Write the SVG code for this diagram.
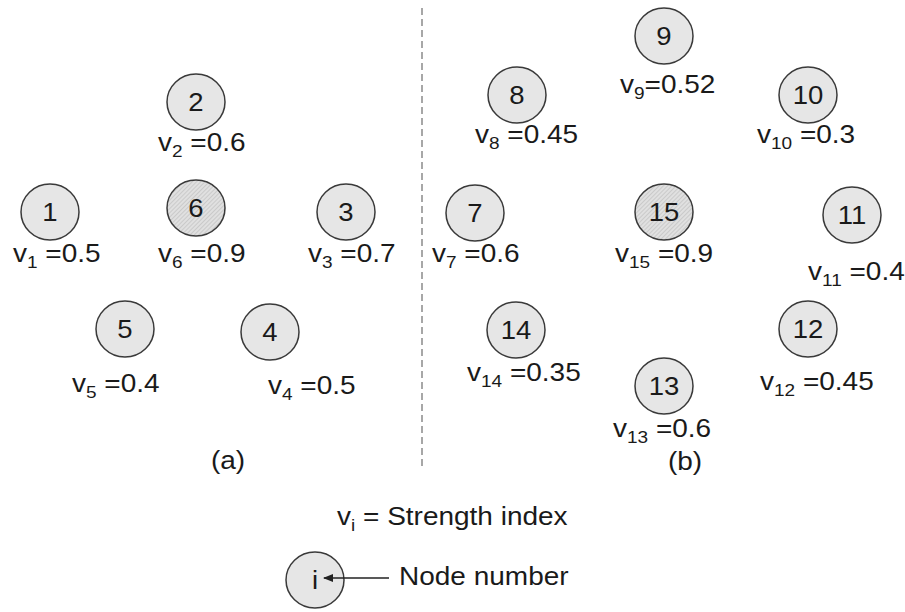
<svg xmlns="http://www.w3.org/2000/svg" width="905" height="612" viewBox="0 0 905 612">
<style>
.n{fill:#e6e6e6;stroke:#3a3a3a;stroke-width:1.5}
.h{fill:url(#hatch);stroke:#3a3a3a;stroke-width:1.5}
.t{font-family:"Liberation Sans",Arial,sans-serif;font-size:25px;fill:#1a1a1a}
.c{text-anchor:middle}
.s{font-size:17px}
.d{stroke:#8a8a8a;stroke-width:1.5;stroke-dasharray:7 4;fill:none}
.a{stroke:#222;stroke-width:1.5;fill:none}
</style>
<defs>
<pattern id="hatch" width="3" height="3" patternUnits="userSpaceOnUse" patternTransform="rotate(45)">
<rect width="3" height="3" fill="#e0e0e0"/>
<line x1="0" y1="0" x2="0" y2="3" stroke="#b4b4b4" stroke-width="1"/>
</pattern>
<marker id="arr" markerWidth="10" markerHeight="8" refX="9" refY="4" orient="auto" markerUnits="userSpaceOnUse">
<path d="M0,0 L10,4 L0,8 Z" fill="#222"/>
</marker>
</defs>
<rect width="905" height="612" fill="#fff"/>
<line class="d" x1="422" y1="8" x2="422" y2="466"/>

<g id="node1"><ellipse class="n" cx="50" cy="212" rx="29" ry="28"/>
<text class="t c" transform="translate(50,221) scale(1.1,1)">1</text>
<text class="t" transform="translate(13,262) scale(1.12,1)">v<tspan class="s" dy="6">1</tspan><tspan dy="-6"> =0.5</tspan></text></g>

<g id="node2"><ellipse class="n" cx="196" cy="102" rx="29" ry="28"/>
<text class="t c" transform="translate(196,111) scale(1.1,1)">2</text>
<text class="t" transform="translate(158,151) scale(1.12,1)">v<tspan class="s" dy="6">2</tspan><tspan dy="-6"> =0.6</tspan></text></g>

<g id="node6"><ellipse class="h" cx="196" cy="208" rx="29" ry="28"/>
<text class="t c" transform="translate(196,217) scale(1.1,1)">6</text>
<text class="t" transform="translate(158,262) scale(1.12,1)">v<tspan class="s" dy="6">6</tspan><tspan dy="-6"> =0.9</tspan></text></g>

<g id="node3"><ellipse class="n" cx="346" cy="212" rx="29" ry="28"/>
<text class="t c" transform="translate(346,221) scale(1.1,1)">3</text>
<text class="t" transform="translate(308,262) scale(1.12,1)">v<tspan class="s" dy="6">3</tspan><tspan dy="-6"> =0.7</tspan></text></g>

<g id="node5"><ellipse class="n" cx="125" cy="329" rx="29" ry="28"/>
<text class="t c" transform="translate(125,338) scale(1.1,1)">5</text>
<text class="t" transform="translate(72,392) scale(1.12,1)">v<tspan class="s" dy="6">5</tspan><tspan dy="-6"> =0.4</tspan></text></g>

<g id="node4"><ellipse class="n" cx="270" cy="332" rx="29" ry="28"/>
<text class="t c" transform="translate(270,341) scale(1.1,1)">4</text>
<text class="t" transform="translate(268,394) scale(1.12,1)">v<tspan class="s" dy="6">4</tspan><tspan dy="-6"> =0.5</tspan></text></g>

<text class="t c" transform="translate(228,469) scale(1.12,1)">(a)</text>

<g id="node8"><ellipse class="n" cx="517" cy="95" rx="29" ry="28"/>
<text class="t c" transform="translate(517,104) scale(1.1,1)">8</text>
<text class="t" transform="translate(475,143) scale(1.12,1)">v<tspan class="s" dy="6">8</tspan><tspan dy="-6"> =0.45</tspan></text></g>

<g id="node9"><ellipse class="n" cx="664" cy="36" rx="29" ry="28"/>
<text class="t c" transform="translate(664,45) scale(1.1,1)">9</text>
<text class="t" transform="translate(620,93) scale(1.12,1)">v<tspan class="s" dy="6">9</tspan><tspan dy="-6">=0.52</tspan></text></g>

<g id="node10"><ellipse class="n" cx="808" cy="95" rx="29" ry="28"/>
<text class="t c" transform="translate(808,104) scale(1.1,1)">10</text>
<text class="t" transform="translate(757,143) scale(1.12,1)">v<tspan class="s" dy="6">10</tspan><tspan dy="-6"> =0.3</tspan></text></g>

<g id="node7"><ellipse class="n" cx="475" cy="213" rx="29" ry="28"/>
<text class="t c" transform="translate(475,222) scale(1.1,1)">7</text>
<text class="t" transform="translate(432,262) scale(1.12,1)">v<tspan class="s" dy="6">7</tspan><tspan dy="-6"> =0.6</tspan></text></g>

<g id="node15"><ellipse class="h" cx="664" cy="212" rx="29" ry="28"/>
<text class="t c" transform="translate(664,221) scale(1.1,1)">15</text>
<text class="t" transform="translate(615,262) scale(1.12,1)">v<tspan class="s" dy="6">15</tspan><tspan dy="-6"> =0.9</tspan></text></g>

<g id="node11"><ellipse class="n" cx="852" cy="215" rx="29" ry="28"/>
<text class="t c" transform="translate(852,224) scale(1.1,1)">11</text>
<text class="t" transform="translate(808,280) scale(1.12,1)">v<tspan class="s" dy="6">11</tspan><tspan dy="-6"> =0.4</tspan></text></g>

<g id="node14"><ellipse class="n" cx="516" cy="330" rx="29" ry="28"/>
<text class="t c" transform="translate(516,339) scale(1.1,1)">14</text>
<text class="t" transform="translate(467,381) scale(1.12,1)">v<tspan class="s" dy="6">14</tspan><tspan dy="-6"> =0.35</tspan></text></g>

<g id="node12"><ellipse class="n" cx="808" cy="329" rx="29" ry="28"/>
<text class="t c" transform="translate(808,338) scale(1.1,1)">12</text>
<text class="t" transform="translate(760,390) scale(1.12,1)">v<tspan class="s" dy="6">12</tspan><tspan dy="-6"> =0.45</tspan></text></g>

<g id="node13"><ellipse class="n" cx="664" cy="386" rx="29" ry="28"/>
<text class="t c" transform="translate(664,395) scale(1.1,1)">13</text>
<text class="t" transform="translate(613,437) scale(1.12,1)">v<tspan class="s" dy="6">13</tspan><tspan dy="-6"> =0.6</tspan></text></g>

<text class="t c" transform="translate(685,470) scale(1.12,1)">(b)</text>

<g id="legend-strength">
<text class="t" transform="translate(337,525) scale(1.12,1)">v<tspan class="s" dy="6">i</tspan><tspan dy="-6"> = Strength index</tspan></text>
</g>
<g id="legend-node"><ellipse class="n" cx="315" cy="580" rx="29" ry="28"/>
<text class="t c" transform="translate(315,589) scale(1.1,1)">i</text>
<text class="t" transform="translate(399,585) scale(1.12,1)">Node number</text></g>

<g id="connectors">
<line class="a" x1="389" y1="578" x2="324" y2="578" marker-end="url(#arr)"/>
</g>
</svg>
